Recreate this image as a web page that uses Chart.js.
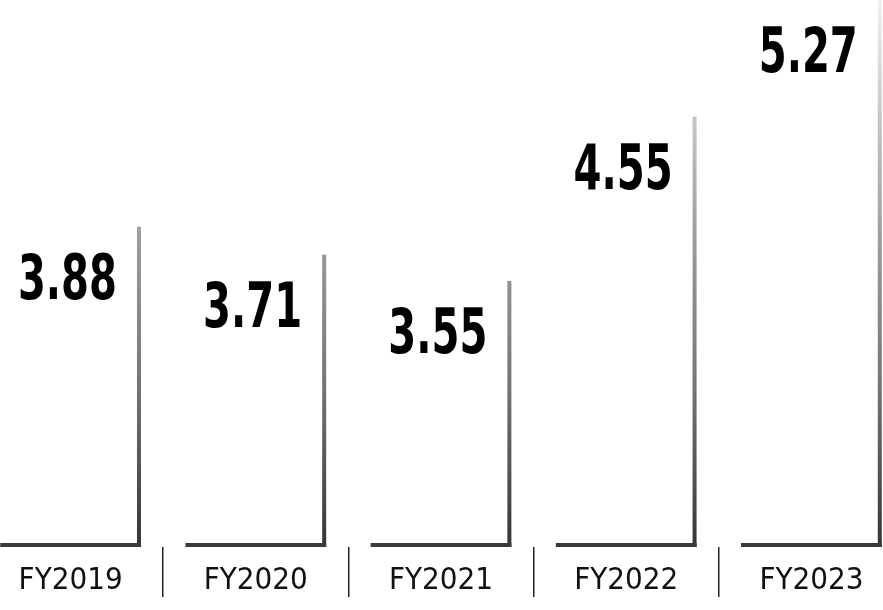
<!DOCTYPE html>
<html>
<head>
<meta charset="utf-8">
<script src="https://cdn.jsdelivr.net/npm/chart.js@4.4.1/dist/chart.umd.min.js"></script>
<style>
  html, body { margin: 0; padding: 0; background: #fff; overflow: hidden; }
  body { width: 883px; height: 610px; position: relative; }
  .chart-wrap { position: absolute; left: -22px; top: 0; width: 926px; height: 610px; }
</style>
</head>
<body>
<div class="chart-wrap"><canvas id="chart"></canvas></div>
<script>
const years = ['FY2019', 'FY2020', 'FY2021', 'FY2022', 'FY2023'];
const values = [3.88, 3.71, 3.55, 4.55, 5.27];
const yMin = 1.93;
const yMax = 5.26;

const condensed = '"Liberation Sans Narrow", "DejaVu Sans Condensed", sans-serif';
const lineW = 4;

// each bar is drawn as an "L": floor line + gradient right edge
const barOutline = {
  id: 'barOutline',
  afterDatasetsDraw(chart) {
    const ctx = chart.ctx;
    const area = chart.chartArea;
    const meta = chart.getDatasetMeta(0);
    const g = ctx.createLinearGradient(0, area.top, 0, area.bottom);
    g.addColorStop(0, '#f2f2f2');
    g.addColorStop(0.22, '#c6c6c6');
    g.addColorStop(0.45, '#9a9a9a');
    g.addColorStop(0.7, '#767676');
    g.addColorStop(1, '#353535');
    ctx.save();
    meta.data.forEach(bar => {
      const left = bar.x - bar.width / 2;
      const right = bar.x + bar.width / 2;
      ctx.fillStyle = g;
      ctx.fillRect(right - lineW, bar.y, lineW, bar.base - bar.y);
      ctx.fillStyle = '#3a3a3a';
      ctx.fillRect(left, bar.base - lineW, right - left, lineW);
    });
    ctx.restore();
  }
};

// value labels sit left of each bar's vertical line
const valueLabels = {
  id: 'valueLabels',
  afterDatasetsDraw(chart) {
    const ctx = chart.ctx;
    const meta = chart.getDatasetMeta(0);
    ctx.save();
    ctx.fillStyle = '#000';
    ctx.font = 'bold 62px ' + condensed;
    ctx.textAlign = 'right';
    ctx.textBaseline = 'alphabetic';
    meta.data.forEach((bar, i) => {
      const right = bar.x + bar.width / 2;
      ctx.save();
      ctx.translate(right - 24, Math.max(bar.y, 0) + 72);
      ctx.scale(0.72, 1);
      ctx.fillText(values[i].toFixed(2), 0, 0);
      ctx.restore();
    });
    ctx.restore();
  }
};

const chart = new Chart(document.getElementById('chart'), {
  type: 'bar',
  data: {
    labels: years,
    datasets: [{
      data: values,
      base: yMin,
      backgroundColor: 'rgba(0,0,0,0)',
      borderWidth: 0,
      barPercentage: 0.76,
      categoryPercentage: 1
    }]
  },
  options: {
    responsive: true,
    maintainAspectRatio: false,
    animation: false,
    layout: {
      padding: 0
    },
    plugins: {
      legend: { display: false },
      tooltip: { enabled: false }
    },
    scales: {
      y: {
        display: false,
        min: yMin,
        max: yMax
      },
      x: {
        border: { display: false },
        afterFit: scale => { scale.height = 63; },
        grid: {
          offset: true,
          drawOnChartArea: false,
          tickLength: 50,
          color: '#222',
          lineWidth: 1.5
        },
        ticks: {
          color: '#111',
          padding: -35,
          font: { family: condensed, size: 31 }
        }
      }
    }
  },
  plugins: [barOutline, valueLabels]
});
</script>
</body>
</html>
